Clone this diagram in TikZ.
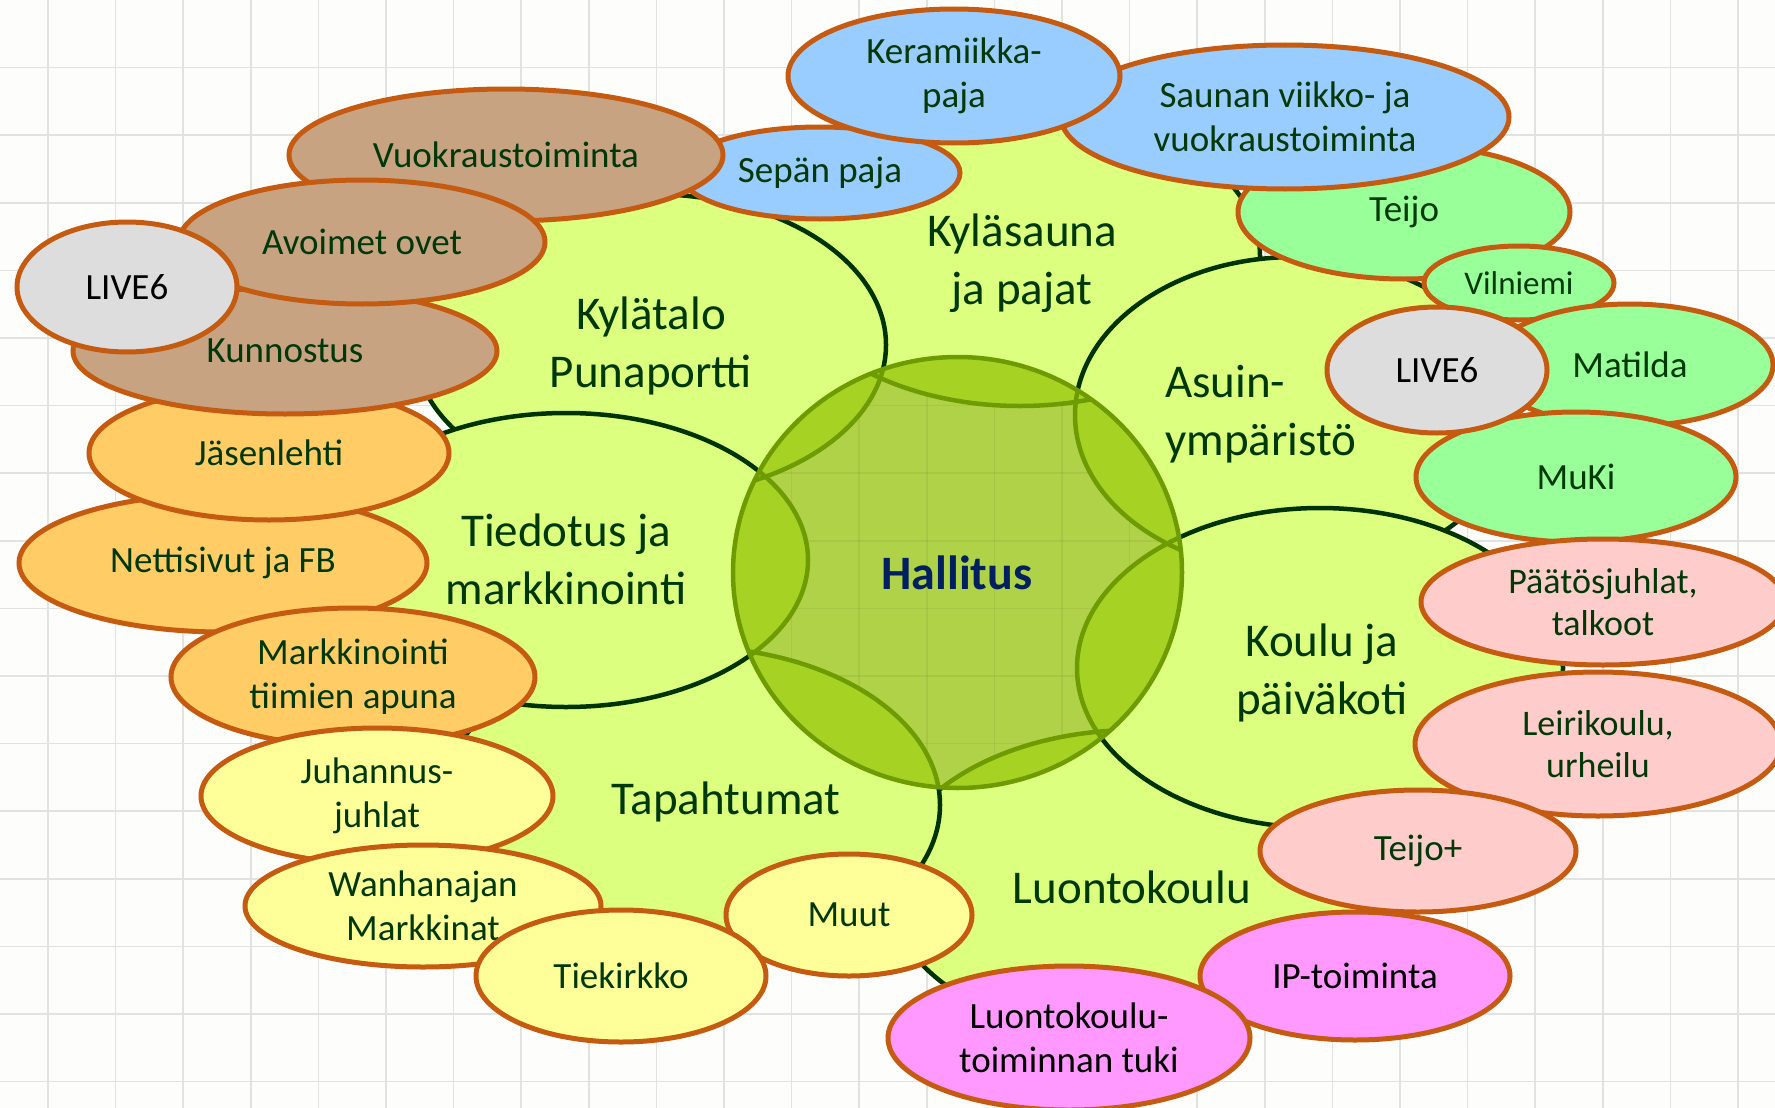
\documentclass[tikz,border=0pt]{standalone}
\usepackage{fontspec}
\setmainfont{Carlito}
\usetikzlibrary{shapes.geometric}
\definecolor{bgc}{RGB}{253,254,251}
\definecolor{gridc}{RGB}{224,227,224}
\definecolor{satfill}{RGB}{221,255,128}
\definecolor{satline}{RGB}{0,51,0}
\definecolor{cenfill}{RGB}{176,210,72}
\definecolor{lensfill}{RGB}{166,211,35}
\definecolor{cenline}{RGB}{110,155,0}
\definecolor{txt}{RGB}{0,56,8}
\definecolor{navy}{RGB}{0,32,96}
\definecolor{bubline}{RGB}{197,90,17}
\definecolor{cbrown}{RGB}{200,163,130}
\definecolor{cblue}{RGB}{153,204,255}
\definecolor{cgreen}{RGB}{153,255,153}
\definecolor{cgray}{RGB}{221,221,221}
\definecolor{corange}{RGB}{255,204,102}
\definecolor{cpink}{RGB}{255,204,204}
\definecolor{cmag}{RGB}{255,153,255}
\definecolor{cyellow}{RGB}{255,255,153}
\begin{document}
\begin{tikzpicture}[x=1pt,y=-1pt,
  sat/.style={ellipse, draw=satline, fill=satfill, line width=4.5pt, inner sep=0pt},
  bub/.style={ellipse, draw=bubline, line width=5pt, inner sep=0pt, align=center, text=txt, font=\fontsize{37}{44}\selectfont},
  ttl/.style={inner sep=0pt, align=center, text=txt, font=\fontsize{47}{58}\selectfont},
  gridline/.style={gridc, line width=1.6pt}
]
\useasboundingbox (0,0) rectangle (1775,1108);
\clip (0,0) rectangle (1775,1108);
\fill[bgc] (0,0) rectangle (1775,1108);
\foreach \i in {0,...,25} \draw[gridline] ({48+67.6*\i},0) -- ({48+67.6*\i},1108);
\foreach \i in {1,...,16} \draw[gridline] (0,{67.6*\i}) -- (1775,{67.6*\i});

% satellite ellipses (drawing order matters)
\node[sat, minimum width=480pt, minimum height=300pt] (sauna) at (1020,256) {};
\node[sat, minimum width=440pt, minimum height=316pt] (asuin) at (1295,415) {};
\node[sat, minimum width=496pt, minimum height=310pt] (luonto) at (1135,885) {};
\node[sat, minimum width=486pt, minimum height=320pt] (koulu) at (1320,668) {};
\node[sat, minimum width=500pt, minimum height=316pt] (tapaht) at (690,805) {};
\node[sat, minimum width=472pt, minimum height=302pt] (kylatalo) at (650,345) {};
\node[sat, minimum width=484pt, minimum height=294pt] (tiedotus) at (566,560) {};

% centre with lenses
\node[ellipse, fill=cenfill, minimum width=449pt, minimum height=431pt, inner sep=0pt] (hall) at (957.5,572.5) {};
\begin{scope}
  \clip (hall.center) ellipse [x radius=224.5pt, y radius=215.5pt];
  \foreach \i in {0,...,25} \draw[black, opacity=0.05, line width=1.6pt] ({48+67.6*\i},0) -- ({48+67.6*\i},1108);
  \foreach \i in {1,...,16} \draw[black, opacity=0.05, line width=1.6pt] (0,{67.6*\i}) -- (1775,{67.6*\i});
  \foreach \n/\rx/\ry in {sauna/240/150, asuin/220/158, luonto/248/155, koulu/243/160, tapaht/250/158, kylatalo/236/151, tiedotus/242/147}
    \fill[lensfill] (\n.center) ellipse [x radius=\rx*1pt, y radius=\ry*1pt];
  \foreach \n/\rx/\ry in {sauna/240/150, asuin/220/158, luonto/248/155, koulu/243/160, tapaht/250/158, kylatalo/236/151, tiedotus/242/147}
    \draw[cenline, line width=4.5pt] (\n.center) ellipse [x radius=\rx*1pt, y radius=\ry*1pt];
\end{scope}
\draw[cenline, line width=4.5pt] (hall.center) ellipse [x radius=224.5pt, y radius=215.5pt];

% satellite titles
\node[ttl] (t-kyl) at (651,346) {Kylätalo\\Punaportti};
\node[ttl] (t-sau) at (1022,263) {Kyläsauna\\ja pajat};
\node[ttl, align=left, anchor=west] (t-asu) at (1165,414) {Asuin-\\ympäristö};
\node[ttl] (t-kou) at (1322,673) {Koulu ja\\päiväkoti};
\node[ttl] (t-luo) at (1132,887) {Luontokoulu};
\node[ttl] (t-tap) at (726,802) {Tapahtumat};
\node[ttl] (t-tie) at (566,559) {Tiedotus ja\\markkinointi};
\node[inner sep=0pt, text=navy, font=\bfseries\fontsize{48}{56}\selectfont] (t-hal) at (957,573) {Hallitus};

% bubbles
\node[bub, fill=cgreen, minimum width=332pt, minimum height=134pt] (teijo) at (1404,212) {Teijo};
\node[bub, fill=cblue, minimum width=448pt, minimum height=144pt] (saunan) at (1285,117) {Saunan viikko- ja\\vuokraustoiminta};
\node[bub, fill=cblue, minimum width=280pt, minimum height=92pt] (sepan) at (820,173) {Sepän paja};
\node[bub, fill=cblue, minimum width=332pt, minimum height=134pt] (keram) at (954,76) {Keramiikka-\\paja};
\node[bub, fill=cbrown, minimum width=434pt, minimum height=132pt] (vuokr) at (506,155) {Vuokraustoiminta};
\node[bub, fill=corange, minimum width=408pt, minimum height=138pt] (netti) at (223,563) {Nettisivut ja FB};
\node[bub, fill=corange, minimum width=360pt, minimum height=134pt] (jasen) at (269,453) {Jäsenlehti};
\node[bub, fill=cbrown, minimum width=424pt, minimum height=126pt] (kunnos) at (285,351) {Kunnostus};
\node[bub, fill=cbrown, minimum width=366pt, minimum height=124pt] (avoimet) at (362,242) {Avoimet ovet};
\node[bub, fill=cgray, text=black, minimum width=220pt, minimum height=130pt] (live6a) at (127,287) {LIVE6};
\node[bub, fill=corange, minimum width=364pt, minimum height=138pt] (markk) at (353,677) {Markkinointi\\tiimien apuna};
\node[bub, fill=cyellow, minimum width=352pt, minimum height=136pt] (juhan) at (377,796) {Juhannus-\\juhlat};
\node[bub, fill=cyellow, minimum width=356pt, minimum height=122pt] (wanha) at (423,906) {Wanhanajan\\Markkinat};
\node[bub, fill=cyellow, minimum width=246pt, minimum height=122pt] (muut) at (849,915) {Muut};
\node[bub, fill=cyellow, minimum width=290pt, minimum height=132pt] (tiekirkko) at (621,976) {Tiekirkko};
\node[bub, fill=cgreen, minimum width=190pt, minimum height=74pt, font=\fontsize{33}{39}\selectfont] (vilniemi) at (1519,283) {Vilniemi};
\node[bub, fill=cgreen, minimum width=286pt, minimum height=122pt] (matilda) at (1630,365) {Matilda};
\node[bub, fill=cgreen, minimum width=320pt, minimum height=130pt] (muki) at (1576,477) {MuKi};
\node[bub, fill=cgray, text=black, minimum width=220pt, minimum height=126pt] (live6b) at (1437,370) {LIVE6};
\node[bub, fill=cpink, minimum width=364pt, minimum height=126pt, font=\fontsize{36}{42}\selectfont] (paatos) at (1603,602) {Päätösjuhlat,\\talkoot};
\node[bub, fill=cpink, minimum width=366pt, minimum height=144pt, font=\fontsize{36}{42}\selectfont] (leiri) at (1598,744) {Leirikoulu,\\urheilu};
\node[bub, fill=cpink, minimum width=316pt, minimum height=122pt] (teijop) at (1418,851) {Teijo+};
\node[bub, fill=cmag, text=black, minimum width=310pt, minimum height=128pt] (ip) at (1355,976) {IP-toiminta};
\node[bub, fill=cmag, text=black, minimum width=362pt, minimum height=144pt] (ltuki) at (1069,1038) {Luontokoulu-\\toiminnan tuki};
\end{tikzpicture}
\end{document}
